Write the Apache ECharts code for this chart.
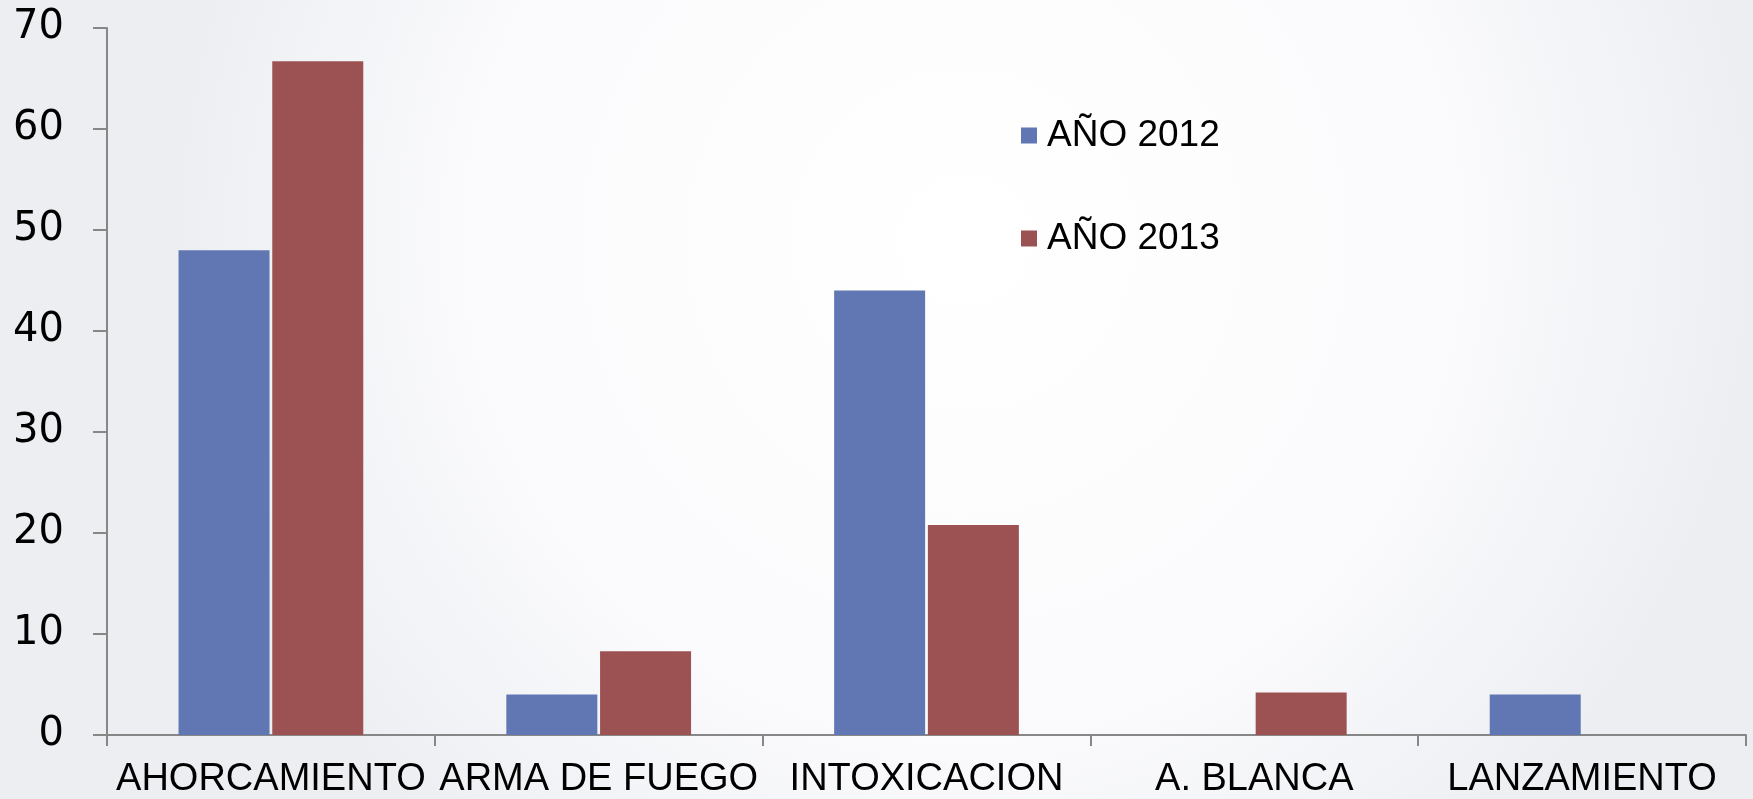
<!DOCTYPE html>
<html>
<head>
<meta charset="utf-8">
<script src="https://cdn.jsdelivr.net/npm/echarts@6/dist/echarts.min.js"></script>
<style>
html,body{margin:0;padding:0;width:1753px;height:799px;overflow:hidden;}
#chart{width:1753px;height:799px;}
</style>
</head>
<body>
<div id="chart"></div>
<script>
const categories = ['AHORCAMIENTO', 'ARMA DE FUEGO', 'INTOXICACION', 'A. BLANCA', 'LANZAMIENTO'];
const seriesNames = ['AÑO 2012', 'AÑO 2013'];
const values2012 = [48, 4, 44, 0, 4];
const values2013 = [66.7, 8.3, 20.8, 4.2, 0];
const yTicks = [0, 10, 20, 30, 40, 50, 60, 70];

const axisColor = '#878787';
const chart = echarts.init(document.getElementById('chart'), null, {renderer: 'canvas'});
chart.setOption({
  animation: false,
  backgroundColor: {
    type: 'radial', x: 0.55, y: 0.3, r: 1.0,
    colorStops: [
      {offset: 0, color: '#ffffff'},
      {offset: 0.6, color: '#fbfbfd'},
      {offset: 1, color: '#eceef2'}
    ]
  },
  grid: {left: 107, right: 7, top: 28, bottom: 64, containLabel: false},
  legend: {
    orient: 'vertical',
    left: 1016,
    top: 112,
    itemWidth: 16,
    itemHeight: 16,
    itemGap: 66,
    icon: 'rect',
    data: seriesNames,
    textStyle: {
      fontFamily: 'Liberation Sans, Arial, sans-serif',
      fontSize: 37,
      color: '#000',
      padding: [0, 0, 0, 5]
    }
  },
  xAxis: {
    type: 'category',
    data: categories,
    axisLine: {lineStyle: {color: axisColor, width: 2}},
    axisTick: {show: true, length: 11, lineStyle: {color: axisColor, width: 2}},
    axisLabel: {
      interval: 0,
      margin: 26,
      color: '#000',
      fontFamily: 'Liberation Sans, Arial, sans-serif',
      fontSize: 38
    }
  },
  yAxis: {
    type: 'value',
    min: yTicks[0],
    max: yTicks[yTicks.length - 1],
    interval: 10,
    splitLine: {show: false},
    axisLine: {show: true, lineStyle: {color: axisColor, width: 2}},
    axisTick: {show: true, length: 14, lineStyle: {color: axisColor, width: 2}},
    axisLabel: {
      margin: 43,
      color: '#000',
      fontFamily: 'DejaVu Sans, sans-serif',
      fontSize: 40
    }
  },
  series: [
    {
      name: seriesNames[0],
      type: 'bar',
      data: values2012,
      barWidth: 91,
      barGap: '3%',
      itemStyle: {color: '#6177b4'}
    },
    {
      name: seriesNames[1],
      type: 'bar',
      data: values2013,
      barWidth: 91,
      barGap: '3%',
      itemStyle: {color: '#9c5253'}
    }
  ]
});
</script>
</body>
</html>
